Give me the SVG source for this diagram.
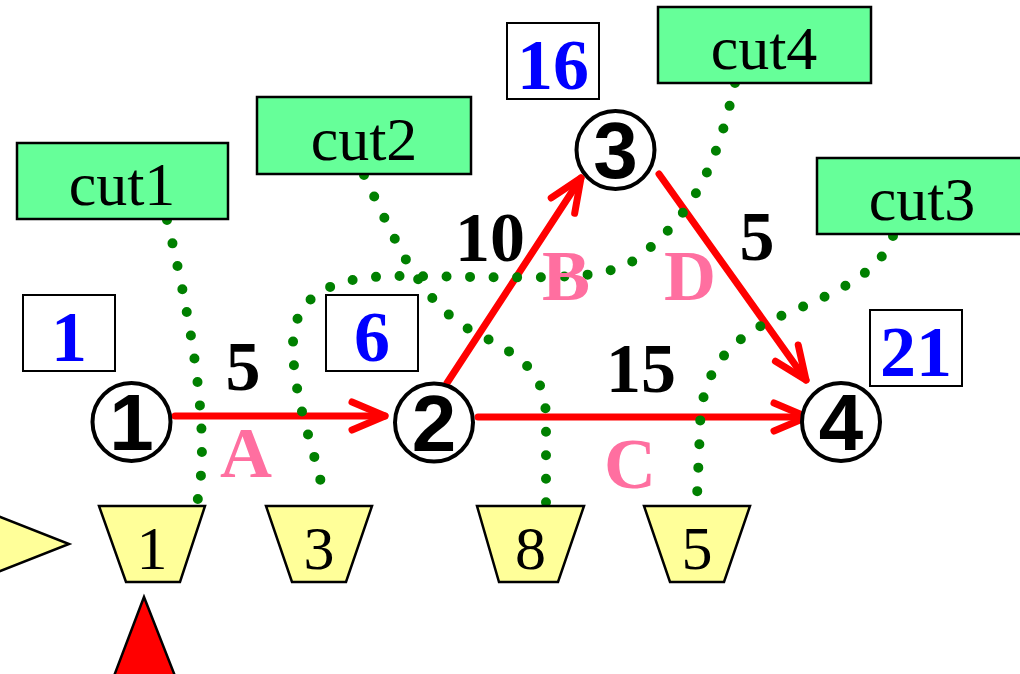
<svg xmlns="http://www.w3.org/2000/svg" width="1020" height="674" viewBox="0 0 1020 674">
<style>
.cut{fill:#66FF99;stroke:#000;stroke-width:2.5}
.cuttxt{font-family:"Liberation Serif",serif;font-size:62px;fill:#000;text-anchor:middle}
.nbox{fill:#fff;stroke:#000;stroke-width:2}
.ntxt{font-family:"Liberation Serif",serif;font-size:72px;font-weight:bold;fill:#0000FF;text-anchor:middle}
.trap{fill:#FFFF99;stroke:#000;stroke-width:2.5}
.traptxt{font-family:"Liberation Serif",serif;font-size:62px;fill:#000;text-anchor:middle}
.circ{fill:#fff;stroke:#000;stroke-width:4}
.ctxt{font-family:"Liberation Sans",Arial,sans-serif;font-size:80px;font-weight:bold;fill:#000;text-anchor:middle}
.w{font-family:"Liberation Serif",serif;font-size:70px;font-weight:bold;fill:#000;text-anchor:middle}
.lab{font-family:"Liberation Serif",serif;font-size:72px;font-weight:bold;fill:#FF6FA0;text-anchor:middle}
.edge{fill:none;stroke:#FF0000;stroke-width:7;stroke-linecap:round;marker-end:url(#ah)}
.dot{fill:none;stroke:#008000;stroke-width:10;stroke-linecap:round;stroke-dasharray:0 23.5}
</style>
<defs>
<marker id="ah" markerUnits="userSpaceOnUse" viewBox="-45 -25 55 50" markerWidth="55" markerHeight="50" refX="0" refY="0" orient="auto" overflow="visible">
<path d="M-33,-14 L0,0 L-33,14" fill="none" stroke="#FF0000" stroke-width="7" stroke-linecap="round" stroke-linejoin="round"/>
</marker>
</defs>
<g id="connectors">
<path class="edge" d="M175,416 L385,416"/>
<path class="edge" d="M478,417 L807,417"/>
<path class="edge" d="M447,383 L581,178"/>
<path class="edge" d="M659,174 L806,380"/>
<path class="dot" d="M167,220 Q215,420 197,503"/>
<path class="dot" d="M364,175 C400,250 420,300 470,330 C520,355 546,370 546,420 L546,507"/>
<path class="dot" d="M735,83 C720,150 700,215 630,263 C600,278 560,278 480,277 L400,276 C340,276 293,290 293,345 C293,400 315,450 323,492"/>
<path class="dot" d="M893,236 C880,275 830,295 783,315 C730,338 700,370 700,430 L697,497"/>
</g>
<g id="pointer-left"><polygon points="-10,513 69,544 -10,575" fill="#FFFF99" stroke="#000" stroke-width="2.5"/></g>
<g id="pointer-red"><polygon points="144,597 114,676 175,676" fill="#FF0000" stroke="#000" stroke-width="2.5"/></g>
<g id="cut1"><rect class="cut" x="17" y="143" width="211" height="76"/><text class="cuttxt" x="122" y="205">cut1</text></g>
<g id="cut2"><rect class="cut" x="257" y="97" width="214" height="77"/><text class="cuttxt" x="364" y="160">cut2</text></g>
<g id="cut3"><rect class="cut" x="817" y="158" width="212" height="76"/><text class="cuttxt" x="922" y="220">cut3</text></g>
<g id="cut4"><rect class="cut" x="658" y="7" width="213" height="76"/><text class="cuttxt" x="764" y="69">cut4</text></g>
<g id="dist1"><rect class="nbox" x="23" y="295" width="92" height="76"/><text class="ntxt" x="69" y="361">1</text></g>
<g id="dist6"><rect class="nbox" x="326" y="295" width="92" height="76"/><text class="ntxt" x="372" y="361">6</text></g>
<g id="dist16"><rect class="nbox" x="507" y="23" width="92" height="76"/><text class="ntxt" x="553" y="89">16</text></g>
<g id="dist21"><rect class="nbox" x="870" y="310" width="92" height="76"/><text class="ntxt" x="916" y="376">21</text></g>
<g id="node1"><circle class="circ" cx="131.5" cy="422" r="39"/><text class="ctxt" x="131.5" y="450">1</text></g>
<g id="node2"><circle class="circ" cx="434" cy="422.5" r="39"/><text class="ctxt" x="434" y="451">2</text></g>
<g id="node3"><circle class="circ" cx="615.5" cy="150" r="39"/><text class="ctxt" x="615.5" y="178">3</text></g>
<g id="node4"><circle class="circ" cx="841" cy="422" r="39"/><text class="ctxt" x="841" y="450">4</text></g>
<g id="trap1"><polygon class="trap" points="99,506 205,506 180,582 126,582"/><text class="traptxt" x="152" y="569">1</text></g>
<g id="trap3"><polygon class="trap" points="266,506 372,506 346,582 292,582"/><text class="traptxt" x="319" y="569">3</text></g>
<g id="trap8"><polygon class="trap" points="477,506 584,506 558,582 499,582"/><text class="traptxt" x="530.5" y="569">8</text></g>
<g id="trap5"><polygon class="trap" points="644,506 750,506 724,582 670,582"/><text class="traptxt" x="697" y="569">5</text></g>
<g id="weights">
<text class="w" x="243" y="390">5</text>
<text class="w" x="490" y="261">10</text>
<text class="w" x="641" y="392">15</text>
<text class="w" x="757" y="260">5</text>
</g>
<g id="edge-labels">
<text class="lab" x="246" y="477">A</text>
<text class="lab" x="566" y="300">B</text>
<text class="lab" x="630" y="488">C</text>
<text class="lab" x="690" y="300">D</text>
</g>
</svg>
